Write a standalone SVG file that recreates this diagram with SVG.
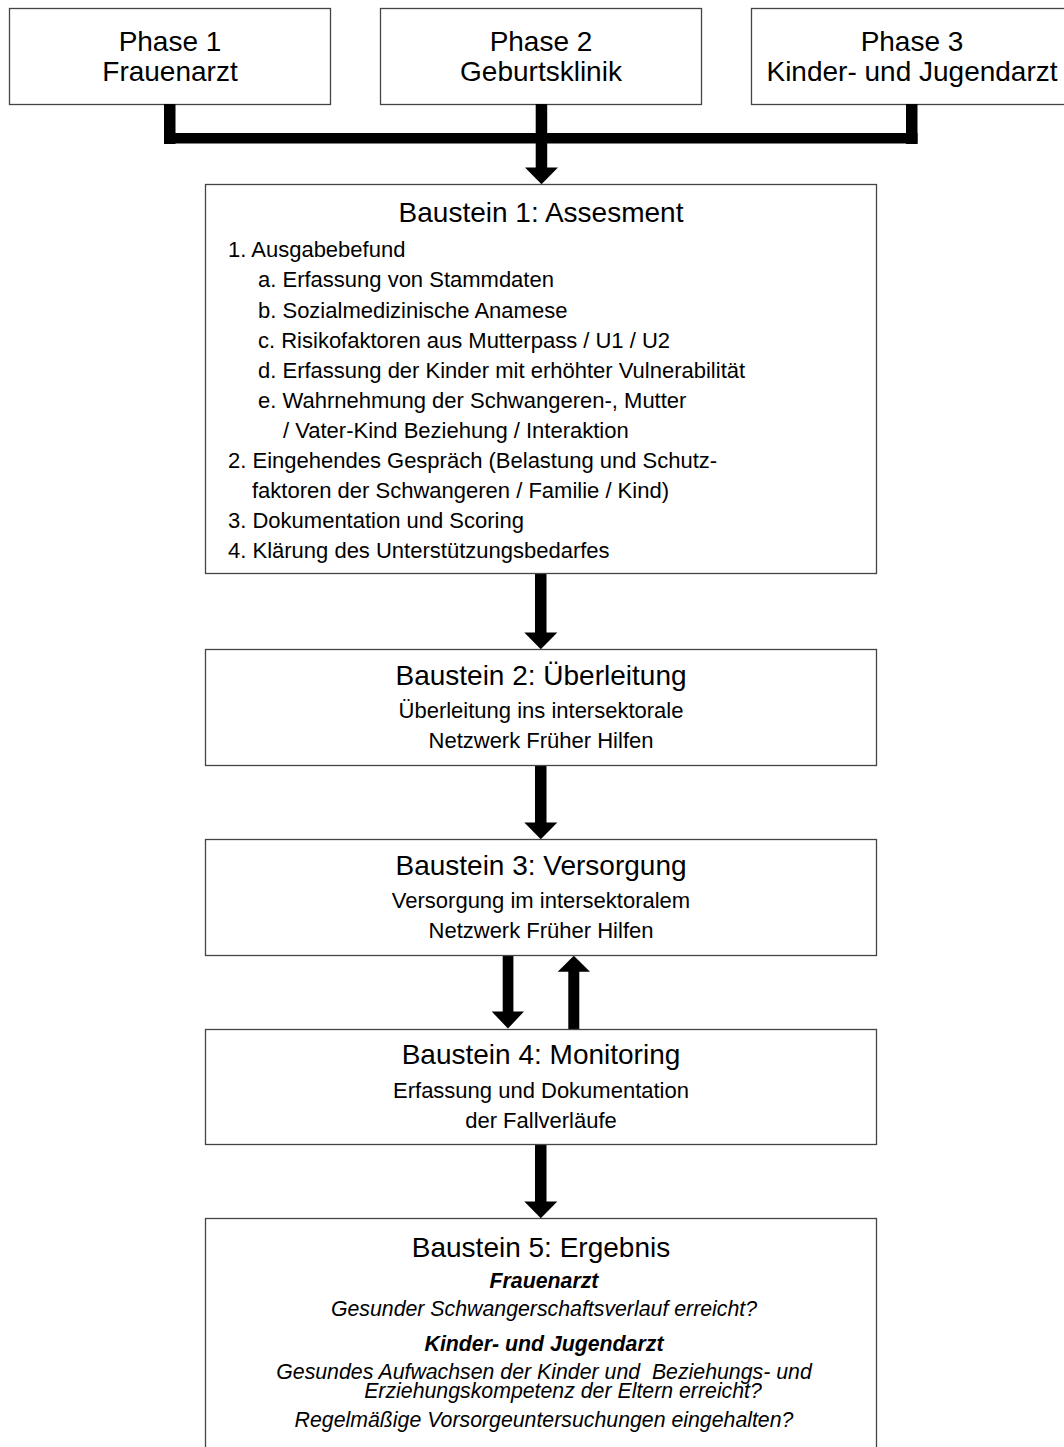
<svg xmlns="http://www.w3.org/2000/svg" width="1064" height="1447" viewBox="0 0 1064 1447">
<style>
.box{fill:#fff;stroke:#444;stroke-width:1.3}
.t{font-family:"Liberation Sans",Arial,sans-serif;fill:#000}
.title{font-size:28px;text-anchor:middle}
.body{font-size:22px}
.c{text-anchor:middle}
.it{font-size:21.3px;font-style:italic;text-anchor:middle}
.bi{font-weight:bold}
.bar{fill:#000}
</style>
<rect width="1064" height="1447" fill="#fff"/>
<g id="phase1"><rect class="box" x="9.5" y="8.5" width="321" height="96"/>
<text class="t title" x="170" y="51">Phase 1</text><text class="t title" x="170" y="81">Frauenarzt</text></g>
<g id="phase2"><rect class="box" x="380.5" y="8.5" width="321" height="96"/>
<text class="t title" x="541" y="51">Phase 2</text><text class="t title" x="541" y="81">Geburtsklinik</text></g>
<g id="phase3"><rect class="box" x="751.5" y="8.5" width="321" height="96"/>
<text class="t title" x="912" y="51">Phase 3</text><text class="t title" x="912" y="81">Kinder- und Jugendarzt</text></g>
<g id="connectors">
<rect class="bar" x="164" y="104" width="11.5" height="40"/>
<rect class="bar" x="906" y="104" width="11.5" height="40"/>
<rect class="bar" x="164" y="133" width="753.5" height="10.5"/>
<rect class="bar" x="535.7" y="104" width="11.5" height="64"/>
<polygon class="bar" points="525,167.5 558,167.5 541.5,184.3"/>
<rect class="bar" x="535" y="573" width="11.5" height="60"/>
<polygon class="bar" points="524.3,632.5 557.3,632.5 540.8,649.3"/>
<rect class="bar" x="535" y="765" width="11.5" height="58"/>
<polygon class="bar" points="524.3,822.5 557.3,822.5 540.8,839.3"/>
<rect class="bar" x="502.7" y="955" width="10.7" height="57"/>
<polygon class="bar" points="491.7,1011.5 524,1011.5 507.9,1028.5"/>
<rect class="bar" x="568.3" y="971" width="11" height="58"/>
<polygon class="bar" points="557.7,971.7 590,971.7 573.8,955.7"/>
<rect class="bar" x="535" y="1144" width="11.5" height="58"/>
<polygon class="bar" points="524.3,1201.5 557.3,1201.5 540.8,1218.3"/>
</g>
<g id="baustein1"><rect class="box" x="205.5" y="184.5" width="671" height="389"/>
<text class="t title" x="541" y="222">Baustein 1: Assesment</text>
<text class="t body" x="228" y="257">1. Ausgabebefund</text>
<text class="t body" x="258" y="287">a. Erfassung von Stammdaten</text>
<text class="t body" x="258" y="318">b. Sozialmedizinische Anamese</text>
<text class="t body" x="258" y="348">c. Risikofaktoren aus Mutterpass / U1 / U2</text>
<text class="t body" x="258" y="378">d. Erfassung der Kinder mit erhöhter Vulnerabilität</text>
<text class="t body" x="258" y="408">e. Wahrnehmung der Schwangeren-, Mutter</text>
<text class="t body" x="283" y="438">/ Vater-Kind Beziehung / Interaktion</text>
<text class="t body" x="228" y="468">2. Eingehendes Gespräch (Belastung und Schutz-</text>
<text class="t body" x="252" y="498">faktoren der Schwangeren / Familie / Kind)</text>
<text class="t body" x="228" y="528">3. Dokumentation und Scoring</text>
<text class="t body" x="228" y="558">4. Klärung des Unterstützungsbedarfes</text>
</g>
<g id="baustein2"><rect class="box" x="205.5" y="649.5" width="671" height="116"/>
<text class="t title" x="541" y="685">Baustein 2: Überleitung</text>
<text class="t body c" x="541" y="718">Überleitung ins intersektorale</text>
<text class="t body c" x="541" y="748">Netzwerk Früher Hilfen</text>
</g>
<g id="baustein3"><rect class="box" x="205.5" y="839.5" width="671" height="116"/>
<text class="t title" x="541" y="875">Baustein 3: Versorgung</text>
<text class="t body c" x="541" y="908">Versorgung im intersektoralem</text>
<text class="t body c" x="541" y="938">Netzwerk Früher Hilfen</text>
</g>
<g id="baustein4"><rect class="box" x="205.5" y="1029.5" width="671" height="115"/>
<text class="t title" x="541" y="1064">Baustein 4: Monitoring</text>
<text class="t body c" x="541" y="1098">Erfassung und Dokumentation</text>
<text class="t body c" x="541" y="1128">der Fallverläufe</text>
</g>
<g id="baustein5"><rect class="box" x="205.5" y="1218.5" width="671" height="240"/>
<text class="t title" x="541" y="1257">Baustein 5: Ergebnis</text>
<text class="t it bi" x="544" y="1288">Frauenarzt</text>
<text class="t it" x="544" y="1316">Gesunder Schwangerschaftsverlauf erreicht?</text>
<text class="t it bi" x="544" y="1351">Kinder- und Jugendarzt</text>
<text class="t it" x="544" y="1379" xml:space="preserve">Gesundes Aufwachsen der Kinder und  Beziehungs- und</text>
<text class="t it" x="563" y="1398">Erziehungskompetenz der Eltern erreicht?</text>
<text class="t it" x="544" y="1427">Regelmäßige Vorsorgeuntersuchungen eingehalten?</text>
</g>
</svg>
